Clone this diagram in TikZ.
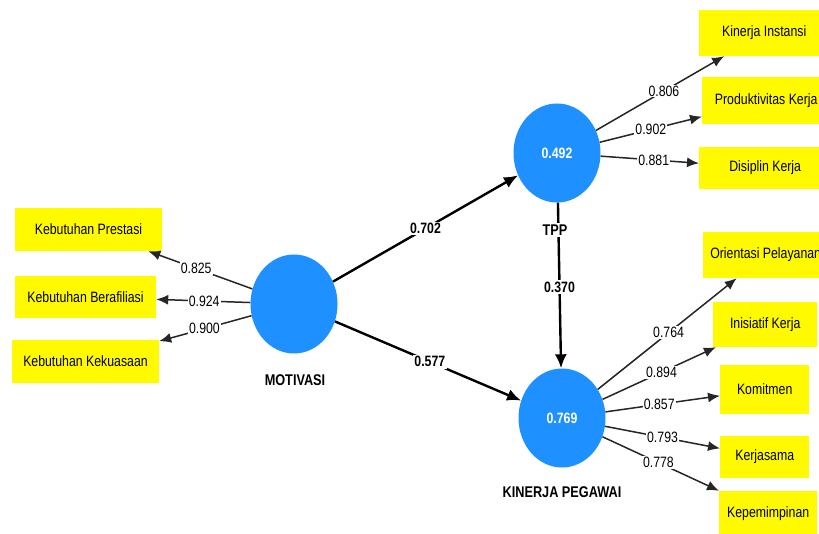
\documentclass[tikz,border=0pt]{standalone}
\usepackage{fontspec}
\setmainfont{Liberation Sans}[FakeStretch=0.82]
\usetikzlibrary{shapes.geometric,arrows.meta}
\definecolor{lvblue}{RGB}{30,144,255}
\definecolor{indyellow}{RGB}{255,250,0}
\begin{document}
\begin{tikzpicture}[x=1pt,y=-1pt,
  lv/.style={ellipse, fill=lvblue, minimum width=87pt, minimum height=99pt, inner sep=0pt, text=white, font=\bfseries\fontsize{15}{17}\selectfont},
  ind/.style={rectangle, fill=indyellow, inner sep=0pt, font=\fontsize{15}{17}\selectfont},
  indr/.style={ind, anchor=west},
  ld/.style={draw=black!85, line width=1.5pt, -{Latex[length=12pt,width=10pt]}},
  sd/.style={draw=black, line width=2.4pt, -{Latex[length=14pt,width=12pt]}},
  val/.style={fill=white, inner sep=1pt, font=\fontsize{15}{17}\selectfont},
  bval/.style={fill=white, inner sep=1.5pt, font=\bfseries\fontsize{15}{17}\selectfont},
  lvname/.style={fill=white, inner sep=1.5pt, font=\bfseries\fontsize{15.5}{17}\selectfont}
]
\useasboundingbox[fill=white] (0,0) rectangle (819,534);

% latent variables
\node[lv] (mot) at (294,304) {};
\node[lv] (tpp) at (557,153) {0.492};
\node[lv] (kin) at (562,418) {0.769};

% indicators left
\node[ind, minimum width=147pt, minimum height=43pt] (k1) at (88.5,229.5) {Kebutuhan Prestasi};
\node[ind, minimum width=141pt, minimum height=42pt] (k2) at (85.5,297) {Kebutuhan Berafiliasi};
\node[ind, minimum width=147pt, minimum height=43pt] (k3) at (85.5,361.5) {Kebutuhan Kekuasaan};

% indicators TPP
\node[indr, minimum width=130pt, minimum height=46pt] (t1) at (699,33) {Kinerja Instansi};
\node[indr, minimum width=128pt, minimum height=47pt] (t2) at (702,100.5) {Produktivitas Kerja};
\node[indr, minimum width=132pt, minimum height=42pt] (t3) at (699,168) {Disiplin Kerja};

% indicators Kinerja Pegawai
\node[indr, minimum width=125pt, minimum height=46pt] (p1) at (703,255) {Orientasi Pelayanan};
\node[indr, minimum width=104pt, minimum height=45pt] (p2) at (713,324.5) {Inisiatif Kerja};
\node[indr, minimum width=89pt, minimum height=49pt] (p3) at (720,389.5) {Komitmen};
\node[indr, minimum width=89pt, minimum height=42pt] (p4) at (720,457) {Kerjasama};
\node[indr, minimum width=98pt, minimum height=46pt] (p5) at (719,513.5) {Kepemimpinan};

% outer loadings
\draw[ld] (mot) -- node[val,pos=0.54]{0.825} (k1);
\draw[ld] (mot) -- node[val,pos=0.49]{0.924} (k2);
\draw[ld] (mot) -- node[val,pos=0.51]{0.900} (k3);

\draw[ld] (tpp) -- node[val,pos=0.53]{0.806} (t1);
\draw[ld] (tpp) -- node[val,pos=0.5]{0.902} (t2);
\draw[ld] (tpp) -- node[val,pos=0.54]{0.881} (t3);

\draw[ld] (kin) -- node[val,pos=0.51]{0.764} (p1);
\draw[ld] (kin) -- node[val,pos=0.52]{0.894} (p2);
\draw[ld] (kin) -- node[val,pos=0.47]{0.857} (p3);
\draw[ld] (kin) -- node[val,pos=0.5]{0.793} (p4);
\draw[ld] (kin) -- node[val,pos=0.48]{0.778} (p5);

% structural paths
\draw[sd] (mot) -- node[bval,pos=0.5]{0.702} (tpp);
\draw[sd] (mot) -- node[bval,pos=0.51]{0.577} (kin);
\draw[sd] (tpp) -- node[bval,pos=0.51]{0.370} (kin);

% names
\node[lvname] (motl) at (295,380) {MOTIVASI};
\node[lvname] (tppl) at (555,230) {TPP};
\node[lvname] (kinl) at (562,492) {KINERJA PEGAWAI};
\end{tikzpicture}
\end{document}
